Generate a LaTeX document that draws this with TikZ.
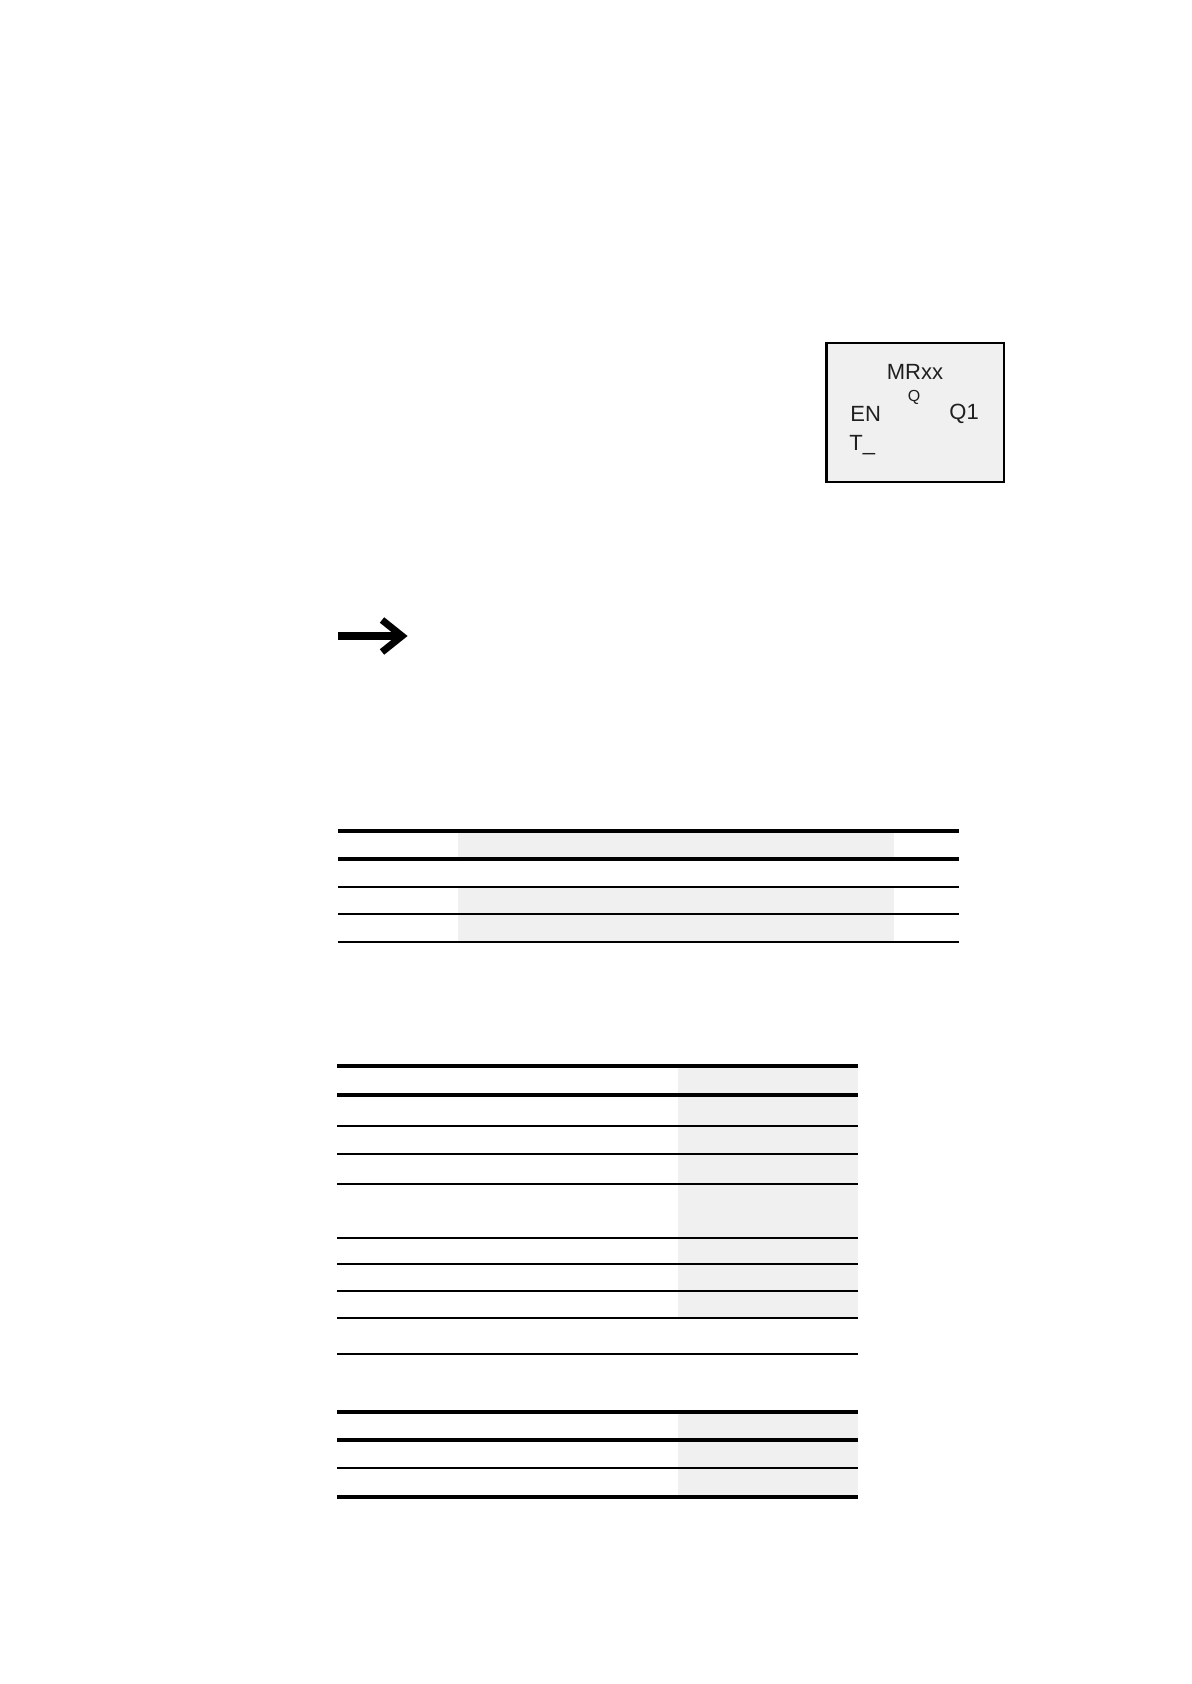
\documentclass[tikz,border=0pt]{standalone}
\usepackage{fontspec}
\setmainfont{Liberation Sans}
\usetikzlibrary{positioning}
\definecolor{boxgray}{gray}{0.94}
\definecolor{cellgray}{gray}{0.94}
\definecolor{inkgray}{gray}{0.12}

\begin{document}
\begin{tikzpicture}[x=0.5pt,y=-0.5pt,
thickrule/.style={line width=1.8pt},
thinrule/.style={line width=0.9pt},
cell/.style={fill=cellgray},
block/.style={draw, line width=1.3pt, fill=boxgray, minimum width=88.6pt, minimum height=69.5pt, inner sep=0pt},
pin/.style={inner sep=0pt, text=inkgray, font=\fontsize{11}{13}\selectfont}]

\useasboundingbox (0,0) rectangle (1191,1684);

% function block
\node[block] (mr) at (915.3,412.5) {};
\node[pin, anchor=base] (name) at (915,379.3) {MRxx};
\node[pin, anchor=base, font=\fontsize{8}{9}\selectfont] (q) at (914,402) {Q};
\node[pin, anchor=base west] (en) at (850,421.7) {EN};
\node[pin, anchor=base west] (q1) at (949,419.3) {Q1};
\node[pin, anchor=base west] (t) at (849,450.7) {T\_};

% note arrow
\coordinate (tail) at (338,636);
\coordinate (head) at (401,636);
\draw[line width=3.7pt] (tail) -- (head);
\draw[line width=3.5pt, miter limit=10] (382,620) -- (402,636) -- (382,652);

% table 1
\fill[cell] (458,831) rectangle (894,859);
\fill[cell] (458,887) rectangle (894,942);
\draw[thickrule] (338,831) -- (959,831);
\draw[thickrule] (338,859) -- (959,859);
\foreach \y in {887,914,942}
  \draw[thinrule] (338,\y) -- (959,\y);

% table 2
\fill[cell] (678,1066) rectangle (858,1318);
\draw[thickrule] (337,1066) -- (858,1066);
\draw[thickrule] (337,1095) -- (858,1095);
\foreach \y in {1126,1154,1184,1238,1264,1291,1318,1354}
  \draw[thinrule] (337,\y) -- (858,\y);

% table 3
\fill[cell] (678,1412) rectangle (858,1497);
\draw[thickrule] (337,1412) -- (858,1412);
\draw[thickrule] (337,1440) -- (858,1440);
\draw[thinrule] (337,1468) -- (858,1468);
\draw[thickrule] (337,1497) -- (858,1497);

\end{tikzpicture}
\end{document}
